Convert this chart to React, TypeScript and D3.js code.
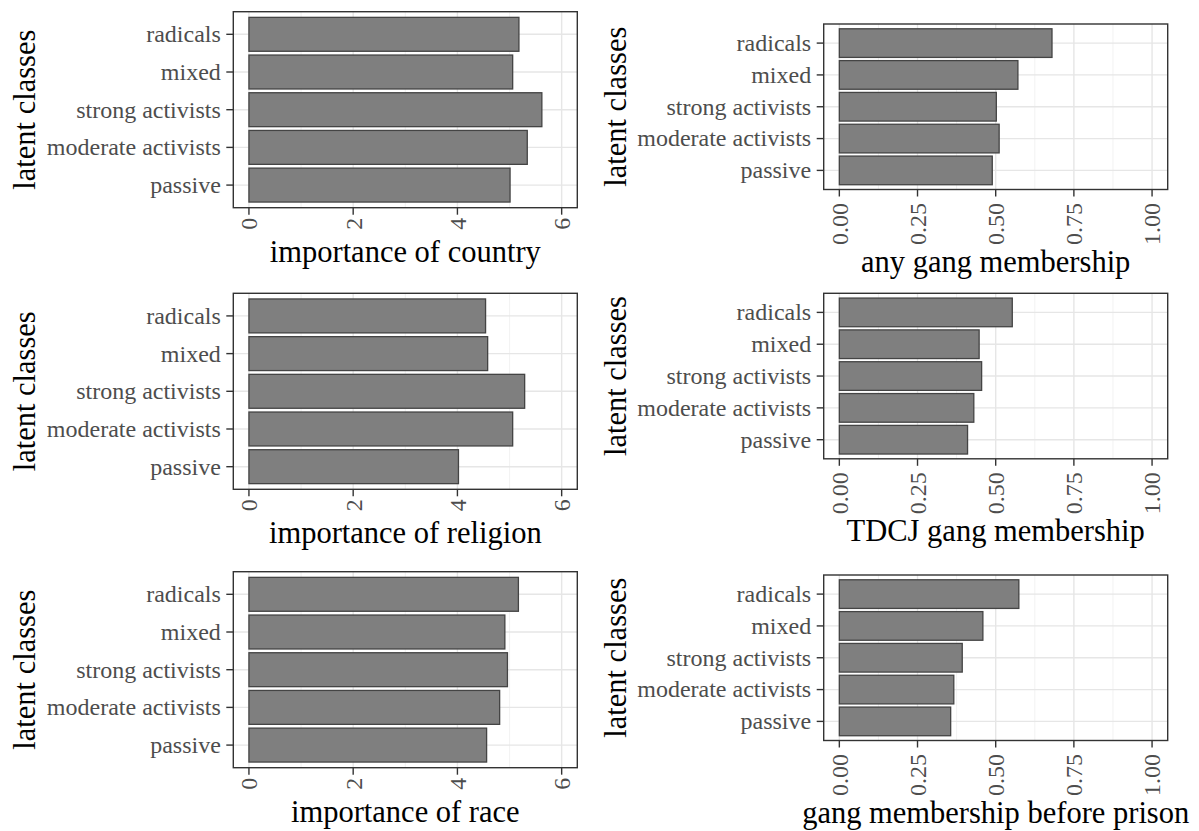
import React from "react";
import * as d3 from "d3";

// Latent classes, listed top to bottom
const categories = ["radicals", "mixed", "strong activists", "moderate activists", "passive"];

// Mean importance scores (0–6 scale)
const countryValues = [5.18, 5.06, 5.62, 5.34, 5.01];
const religionValues = [4.54, 4.58, 5.29, 5.06, 4.02];
const raceValues = [5.17, 4.91, 4.96, 4.81, 4.56];

// Share of members in gangs (0–1 scale)
const anyGangValues = [0.68, 0.571, 0.502, 0.511, 0.489];
const tdcjGangValues = [0.553, 0.447, 0.455, 0.43, 0.41];
const priorGangValues = [0.574, 0.459, 0.393, 0.366, 0.356];

// Axis ticks
const importanceTicks = [0, 2, 4, 6];
const importanceMinor = [1, 3, 5];
const shareTicks = [0, 0.25, 0.5, 0.75, 1];
const shareMinor = [0.125, 0.375, 0.625, 0.875];

const titles = [
  "importance of country",
  "any gang membership",
  "importance of religion",
  "TDCJ gang membership",
  "importance of race",
  "gang membership before prison",
];

const FONT = "'Liberation Serif', 'Times New Roman', Times, serif";

type PanelSpec = {
  values: number[];
  title: string;
  left: number;
  top: number;
  width: number;
  height: number;
  domain: [number, number];
  ticks: number[];
  minor: number[];
  fmt: (v: number) => string;
  tickLabelGap: number;
  titleOffset: number;
  yTitleX: number;
};

function Panel({ p }: { p: PanelSpec }) {
  const x = d3.scaleLinear().domain(p.domain).range([p.left, p.left + p.width]);
  const n = categories.length;
  // ggplot-style discrete expansion: 0.6 of a step on each side
  const step = p.height / (n - 1 + 1.2);
  const yCenter = (i: number) => p.top + 0.6 * step + i * step;
  const bw = step * 0.9;
  const bottom = p.top + p.height;
  const right = p.left + p.width;
  const tickLen = 7;

  return (
    <g>
      <rect x={p.left} y={p.top} width={p.width} height={p.height} fill="#ffffff" />
      {/* minor grid */}
      {p.minor.map((v) => (
        <line key={"mn" + v} x1={x(v)} x2={x(v)} y1={p.top} y2={bottom} stroke="#f0f0f0" strokeWidth={0.9} />
      ))}
      {/* major grid */}
      {p.ticks.map((v) => (
        <line key={"mj" + v} x1={x(v)} x2={x(v)} y1={p.top} y2={bottom} stroke="#e6e6e6" strokeWidth={1.4} />
      ))}
      {categories.map((c, i) => (
        <line key={"hg" + c} x1={p.left} x2={right} y1={yCenter(i)} y2={yCenter(i)} stroke="#e6e6e6" strokeWidth={1.4} />
      ))}
      {/* bars */}
      {p.values.map((v, i) => (
        <rect
          key={"b" + i}
          x={x(0)}
          y={yCenter(i) - bw / 2}
          width={x(v) - x(0)}
          height={bw}
          fill="#7f7f7f"
          stroke="#444444"
          strokeWidth={1.3}
        />
      ))}
      {/* panel border */}
      <rect x={p.left} y={p.top} width={p.width} height={p.height} fill="none" stroke="#333333" strokeWidth={1.4} />
      {/* y axis ticks and labels */}
      {categories.map((c, i) => (
        <g key={"yt" + c}>
          <line x1={p.left - tickLen} x2={p.left} y1={yCenter(i)} y2={yCenter(i)} stroke="#333333" strokeWidth={1.4} />
          <text
            x={p.left - tickLen - 5.5}
            y={yCenter(i)}
            dy="0.33em"
            textAnchor="end"
            fontFamily={FONT}
            fontSize={24}
            fill="#4d4d4d"
          >
            {c}
          </text>
        </g>
      ))}
      {/* x axis ticks and rotated labels */}
      {p.ticks.map((v) => (
        <g key={"xt" + v}>
          <line x1={x(v)} x2={x(v)} y1={bottom} y2={bottom + tickLen} stroke="#333333" strokeWidth={1.4} />
          <text
            transform={`translate(${x(v)},${bottom + p.tickLabelGap}) rotate(-90)`}
            dy="0.35em"
            textAnchor="end"
            fontFamily={FONT}
            fontSize={24}
            fill="#4d4d4d"
          >
            {p.fmt(v)}
          </text>
        </g>
      ))}
      {/* axis titles */}
      <text
        x={p.left + p.width / 2}
        y={bottom + p.titleOffset}
        textAnchor="middle"
        fontFamily={FONT}
        fontSize={30.5}
        fill="#000000"
      >
        {p.title}
      </text>
      <text
        transform={`translate(${p.yTitleX},${p.top + p.height / 2}) rotate(-90)`}
        textAnchor="middle"
        fontFamily={FONT}
        fontSize={30.5}
        fill="#000000"
      >
        latent classes
      </text>
    </g>
  );
}

export default function App() {
  const leftTops = [11.7, 293.3, 571.7];
  const rightTops = [24, 293.3, 575];
  const leftValues = [countryValues, religionValues, raceValues];
  const rightValues = [anyGangValues, tdcjGangValues, priorGangValues];

  const panels: PanelSpec[] = [];
  for (let r = 0; r < 3; r++) {
    panels.push({
      values: leftValues[r],
      title: titles[r * 2],
      left: 233.3,
      top: leftTops[r],
      width: 344,
      height: 196,
      domain: [-0.3, 6.3],
      ticks: importanceTicks,
      minor: importanceMinor,
      fmt: d3.format("d"),
      tickLabelGap: 10,
      titleOffset: 54,
      yTitleX: 35,
    });
    panels.push({
      values: rightValues[r],
      title: titles[r * 2 + 1],
      left: 823.7,
      top: rightTops[r],
      width: 344,
      height: 165.5,
      domain: [-0.05, 1.05],
      ticks: shareTicks,
      minor: shareMinor,
      fmt: d3.format(".2f"),
      tickLabelGap: 13.5,
      titleOffset: 82.5,
      yTitleX: 626,
    });
  }

  return (
    <svg
      width={1199}
      height={831}
      viewBox="0 0 1199 831"
      style={{ position: "absolute", left: 0, top: 0, background: "#ffffff" }}
    >
      <rect x={0} y={0} width={1199} height={831} fill="#ffffff" />
      {panels.map((p, i) => (
        <Panel key={i} p={p} />
      ))}
    </svg>
  );
}
